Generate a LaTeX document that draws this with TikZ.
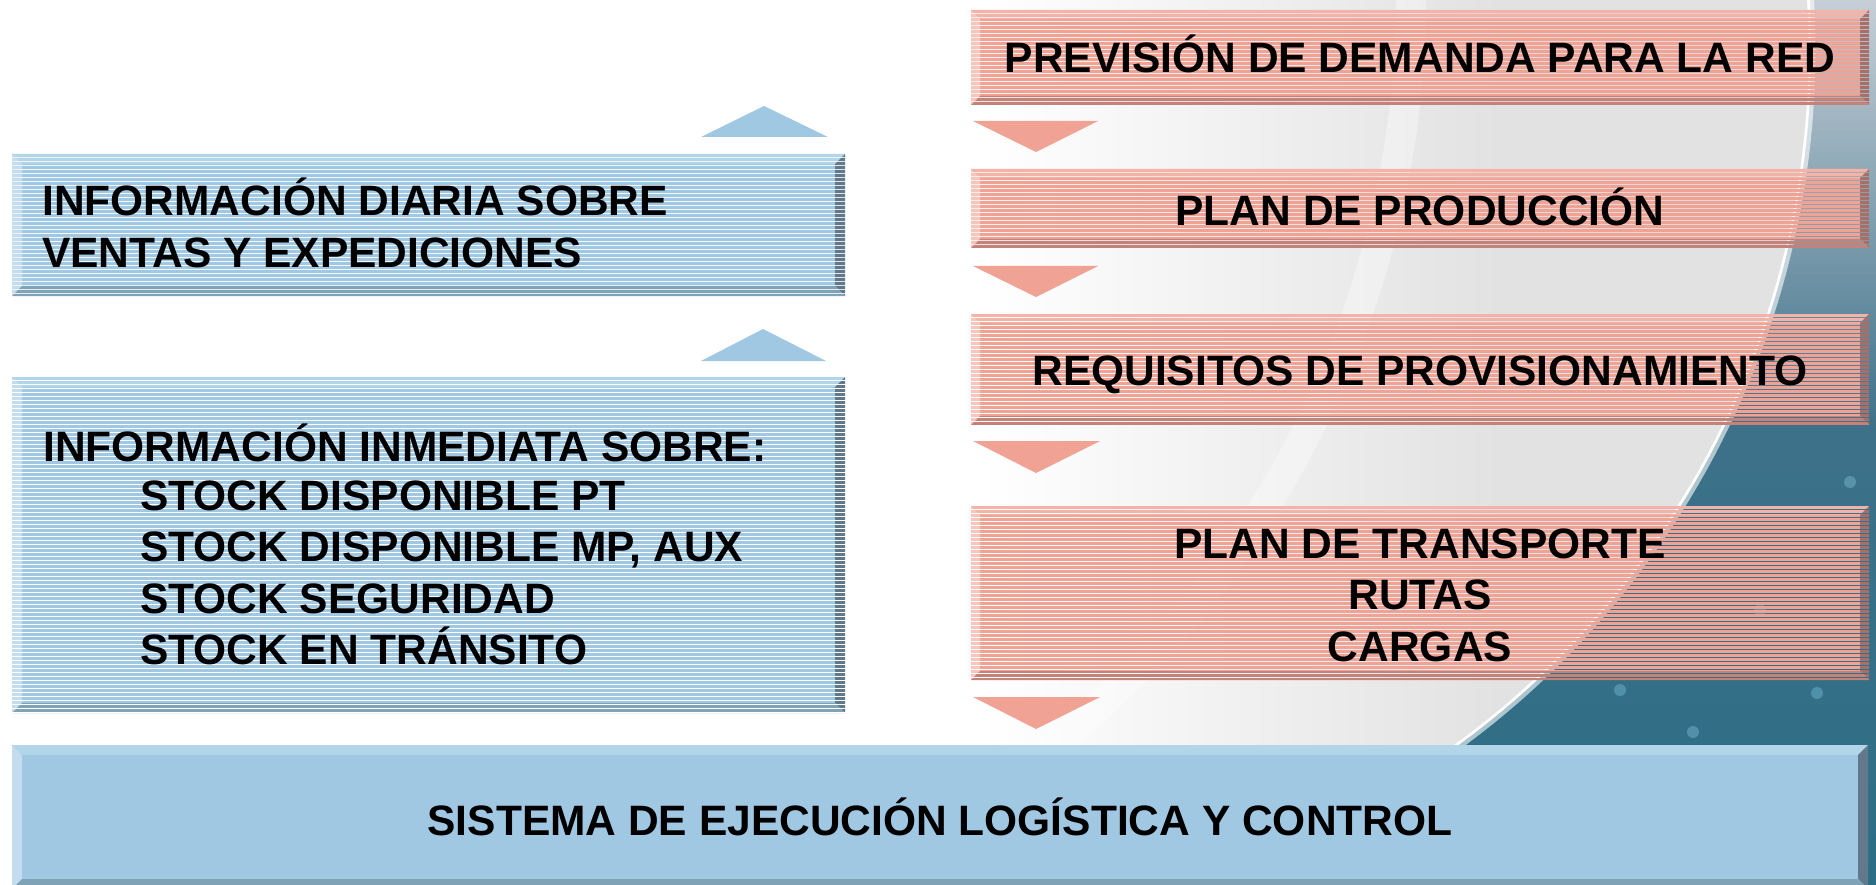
\documentclass[tikz,border=0pt]{standalone}
\usepackage{fontspec}
\setmainfont{Liberation Sans}
\definecolor{bmain}{HTML}{A1C8E2}
\definecolor{btop}{HTML}{B3D5EA}
\definecolor{bleft}{HTML}{C3DDEF}
\definecolor{bright}{HTML}{61798A}
\definecolor{bbot}{HTML}{7FA2B6}
\definecolor{rmain}{HTML}{F0A295}
\definecolor{rtop}{HTML}{F3B3A8}
\definecolor{rleft}{HTML}{F6C6BD}
\definecolor{rright}{HTML}{A5706A}
\definecolor{rbot}{HTML}{C4837A}
\definecolor{bgray}{HTML}{E2E2E2}
\definecolor{tealA}{HTML}{CCD3DA}
\definecolor{tealB}{HTML}{3D7189}
\definecolor{tealC}{HTML}{2B6E85}
\newcommand\bevbox[6]{%
  \fill[#5main] (#1,#2) rectangle (#3,#4);
  \fill[#5top] (#1,#2) -- (#3,#2) -- ({#3-#6},{#2+#6}) -- ({#1+#6},{#2+#6}) -- cycle;
  \fill[#5left] (#1,#2) -- ({#1+#6},{#2+#6}) -- ({#1+#6},{#4-#6}) -- (#1,#4) -- cycle;
  \fill[#5right] (#3,#2) -- (#3,#4) -- ({#3-#6},{#4-#6}) -- ({#3-#6},{#2+#6}) -- cycle;
  \fill[#5bot] (#1,#4) -- (#3,#4) -- ({#3-#6},{#4-#6}) -- ({#1+#6},{#4-#6}) -- cycle;
}
\newcommand\stripebox[6]{%
  \begin{scope}
    \pgfmathtruncatemacro\nstripes{(#4-#2)/4}
    \clip \foreach \k in {0,...,\nstripes} {(#1,{#2+4*\k}) rectangle (#3,{#2+4*\k+2.8})};
    \bevbox{#1}{#2}{#3}{#4}{#5}{#6}
  \end{scope}}
\begin{document}
\begin{tikzpicture}[x=1pt,y=-1pt,
  lbl/.style={font=\fontsize{42.5}{51}\selectfont\bfseries, inner sep=0pt, text=black},
  ctr/.style={lbl, anchor=base},
  lft/.style={lbl, anchor=base west}]
\useasboundingbox (0,0) rectangle (1876,885);
% background
\fill[white] (0,0) rectangle (1876,885);
\shade[left color=white, right color=bgray] (980,0) rectangle (1500,885);
\fill[bgray] (1500,0) rectangle (1876,885);
\draw[white, line width=30pt, opacity=0.35]
  plot[domain=-2:52, samples=50] ({450+961*cos(\x)},{-3+961*sin(\x)});
\begin{scope}
  \clip plot[domain=-5:82, samples=80] ({950+860*cos(\x)},{50+860*sin(\x)})
        -- (1890,900) -- (1890,-20) -- cycle;
  \shade[top color=tealA, bottom color=tealB] (1000,-20) rectangle (1890,430);
  \shade[top color=tealB, bottom color=tealC] (1000,430) rectangle (1890,900);
  \foreach \p in {(1850,482),(1817,693),(1620,690),(1693,732),(1560,560),(1760,610)}
    \fill[cyan!40!white, opacity=0.3] \p circle (6);
\end{scope}
\draw[white, line width=7pt, opacity=0.6]
  plot[domain=-5:82, samples=80] ({950+862*cos(\x)},{50+862*sin(\x)});
\draw[white, line width=2.5pt]
  plot[domain=-5:82, samples=80] ({950+860*cos(\x)},{50+860*sin(\x)});
% red boxes
\stripebox{971}{10}{1869}{105}{r}{9}
\stripebox{971}{169}{1869}{248}{r}{9}
\stripebox{971}{314}{1869}{425}{r}{9}
\stripebox{971}{506}{1869}{680}{r}{9}
% blue boxes
\stripebox{12}{154}{845}{296}{b}{10}
\stripebox{12}{377}{845}{713}{b}{10}
\bevbox{12}{745}{1868}{889}{b}{10}
% triangles
\fill[bmain] (701,137) -- (764,106) -- (828,137) -- cycle;
\fill[bmain] (701,361) -- (763,329) -- (826,361) -- cycle;
\fill[rmain] (973,121) -- (1098,121) -- (1036,152) -- cycle;
\fill[rmain] (973,266) -- (1098,266) -- (1036,297) -- cycle;
\fill[rmain] (973,441) -- (1100,441) -- (1036,473) -- cycle;
\fill[rmain] (973,697) -- (1100,697) -- (1036,729) -- cycle;
% texts
\node[ctr] (t1) at (1420,73) {PREVISIÓN DE DEMANDA PARA LA RED};
\node[ctr] (t2) at (1420,226) {PLAN DE PRODUCCIÓN};
\node[ctr] (t3) at (1420,385) {REQUISITOS DE PROVISIONAMIENTO};
\node[ctr] (t4a) at (1420,558) {PLAN DE TRANSPORTE};
\node[ctr] (t4b) at (1420,609) {RUTAS};
\node[ctr] (t4c) at (1420,661) {CARGAS};
\node[ctr] (t5) at (940,835) {SISTEMA DE EJECUCIÓN LOGÍSTICA Y CONTROL};
\node[lft] (i1) at (42,216) {INFORMACIÓN DIARIA SOBRE};
\node[lft] (i2) at (42,268) {VENTAS Y EXPEDICIONES};
\node[lft] (j1) at (43,461) {INFORMACIÓN INMEDIATA SOBRE:};
\node[lft] (j2) at (140,510) {STOCK DISPONIBLE PT};
\node[lft] (j3) at (140,561) {STOCK DISPONIBLE MP, AUX};
\node[lft] (j4) at (140,613) {STOCK SEGURIDAD};
\node[lft] (j5) at (140,664) {STOCK EN TRÁNSITO};
\end{tikzpicture}
\end{document}
